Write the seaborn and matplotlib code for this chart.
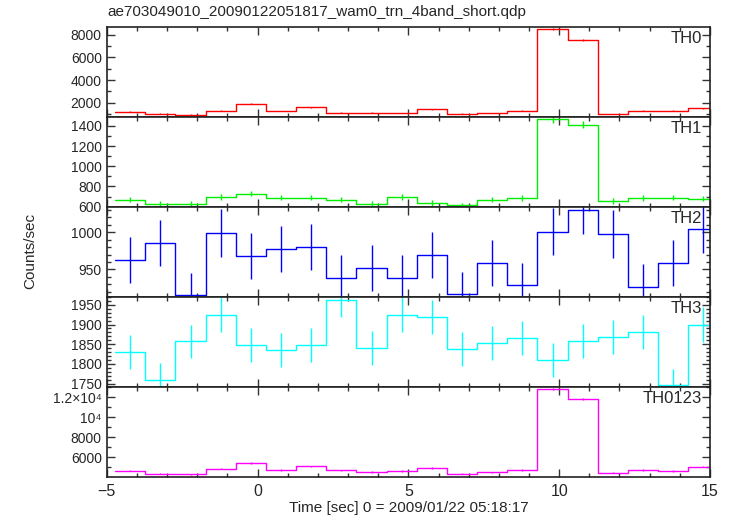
import numpy as np
import pandas as pd
import seaborn as sns
import matplotlib.pyplot as plt
from matplotlib.ticker import FixedLocator, MultipleLocator, FixedFormatter

# bin centres (sec), 1 s bins
time = [-4.22, -3.22, -2.22, -1.22, -0.22, 0.78, 1.78, 2.78, 3.78, 4.78,
        5.78, 6.78, 7.78, 8.78, 9.78, 10.78, 11.78, 12.78, 13.78, 14.78]
half_width = 0.5

th0 = [1200, 1020, 910, 1260, 1910, 1240, 1590, 1110, 1110, 1060,
       1410, 1000, 1060, 1260, 8520, 7550, 970, 1260, 1260, 1500]
th0_err = [35, 32, 30, 35, 44, 35, 40, 33, 33, 33,
           38, 32, 33, 35, 92, 87, 31, 35, 35, 39]

th1 = [670, 630, 630, 696, 730, 690, 690, 670, 630, 696,
       636, 616, 670, 686, 1470, 1413, 656, 686, 690, 680]
th1_err = [26, 25, 25, 26, 27, 26, 26, 26, 25, 26,
           25, 25, 26, 26, 38, 38, 26, 26, 26, 26]

th2 = [963, 986, 915, 999, 968, 977, 980, 938, 952, 939,
       969, 917, 959, 929, 1001, 1030, 998, 927, 959, 1004]
th2_err = [31, 31, 30, 32, 31, 31, 31, 31, 31, 31,
           31, 30, 31, 30, 32, 32, 32, 30, 31, 32]

th3 = [1831, 1760, 1857, 1925, 1848, 1836, 1848, 1962, 1840, 1925,
       1919, 1837, 1854, 1865, 1811, 1858, 1869, 1880, 1746, 1900]
th3_err = [43, 42, 43, 44, 43, 43, 43, 44, 43, 44,
           44, 43, 43, 43, 43, 43, 43, 43, 42, 44]

th0123 = [4633, 4333, 4267, 4833, 5400, 4700, 5067, 4667, 4500, 4600,
          4900, 4333, 4467, 4700, 12867, 11867, 4433, 4700, 4600, 5033]
th0123_err = [68, 66, 65, 70, 73, 69, 71, 68, 67, 68,
              70, 66, 67, 69, 113, 109, 67, 69, 68, 71]

names = ["TH0", "TH1", "TH2", "TH3", "TH0123"]
series = [th0, th1, th2, th3, th0123]
errors = [th0_err, th1_err, th2_err, th3_err, th0123_err]
colors = ["#ff0000", "#00ee00", "#0000ff", "#00ffff", "#ff00ff"]
ylims = [(700, 8680), (596, 1487), (913, 1034), (1742, 1970), (4030, 13070)]
yticks = [[2000, 4000, 6000, 8000],
          [600, 800, 1000, 1200, 1400],
          [950, 1000],
          [1750, 1800, 1850, 1900, 1950],
          [6000, 8000, 10000, 12000]]
ytick_labels = [["2000", "4000", "6000", "8000"],
                ["600", "800", "1000", "1200", "1400"],
                ["950", "1000"],
                ["1750", "1800", "1850", "1900", "1950"],
                ["6000", "8000", "10\u2074", "1.2\u00d710\u2074"]]
yminor = [1000, 100, 10, 10, 1000]

sns.set_style("ticks")
plt.rcParams["font.family"] = ["Liberation Sans", "DejaVu Sans"]

fig, axes = plt.subplots(5, 1, figsize=(7.33, 5.16), dpi=100, sharex=True)
fig.subplots_adjust(left=0.1456, right=0.9686, bottom=0.0762, top=0.9471, hspace=0)

for i, ax in enumerate(axes):
    t = np.array(time)
    v = np.array(series[i])
    edges = np.append(t - half_width, t[-1] + half_width)
    steps = pd.DataFrame({"x": edges, "y": np.append(v, v[-1])})
    sns.lineplot(data=steps, x="x", y="y", ax=ax, color=colors[i],
                 drawstyle="steps-post", linewidth=1.0, estimator=None)
    ax.errorbar(t, v, yerr=errors[i], fmt="none", ecolor=colors[i], elinewidth=1.0)

    ax.set_xlim(-5, 15)
    ax.set_ylim(*ylims[i])
    ax.yaxis.set_major_locator(FixedLocator(yticks[i]))
    ax.yaxis.set_major_formatter(FixedFormatter(ytick_labels[i]))
    ax.yaxis.set_minor_locator(MultipleLocator(yminor[i]))
    ax.xaxis.set_major_locator(MultipleLocator(5))
    ax.xaxis.set_minor_locator(MultipleLocator(1))
    ax.tick_params(which="both", direction="in", top=True, right=True,
                   color="#333333", labelsize=10, width=1.0)
    ax.tick_params(which="major", length=5.5)
    ax.tick_params(which="minor", length=3)
    for s in ax.spines.values():
        s.set_linewidth(1.2)
        s.set_color("#222222")
    ax.set_xlabel("")
    ax.set_ylabel("")
    ax.text(0.987, 0.87, names[i], transform=ax.transAxes, ha="right", va="center",
            fontsize=12)
    if i < 4:
        ax.tick_params(labelbottom=False)

axes[-1].set_xticks([-5, 0, 5, 10, 15])
axes[-1].set_xticklabels(["\u22125", "0", "5", "10", "15"])
axes[-1].tick_params(axis="x", pad=5, labelsize=11.5)
axes[-1].set_xlabel("Time [sec] 0 = 2009/01/22 05:18:17", fontsize=11, labelpad=2)

fig.text(0.041, 0.514, "Counts/sec", rotation=90, ha="center", va="center", fontsize=11)
fig.text(0.146, 0.977, "ae703049010_20090122051817_wam0_trn_4band_short.qdp",
         ha="left", va="center", fontsize=11)

fig.savefig("out.png", dpi=100)
